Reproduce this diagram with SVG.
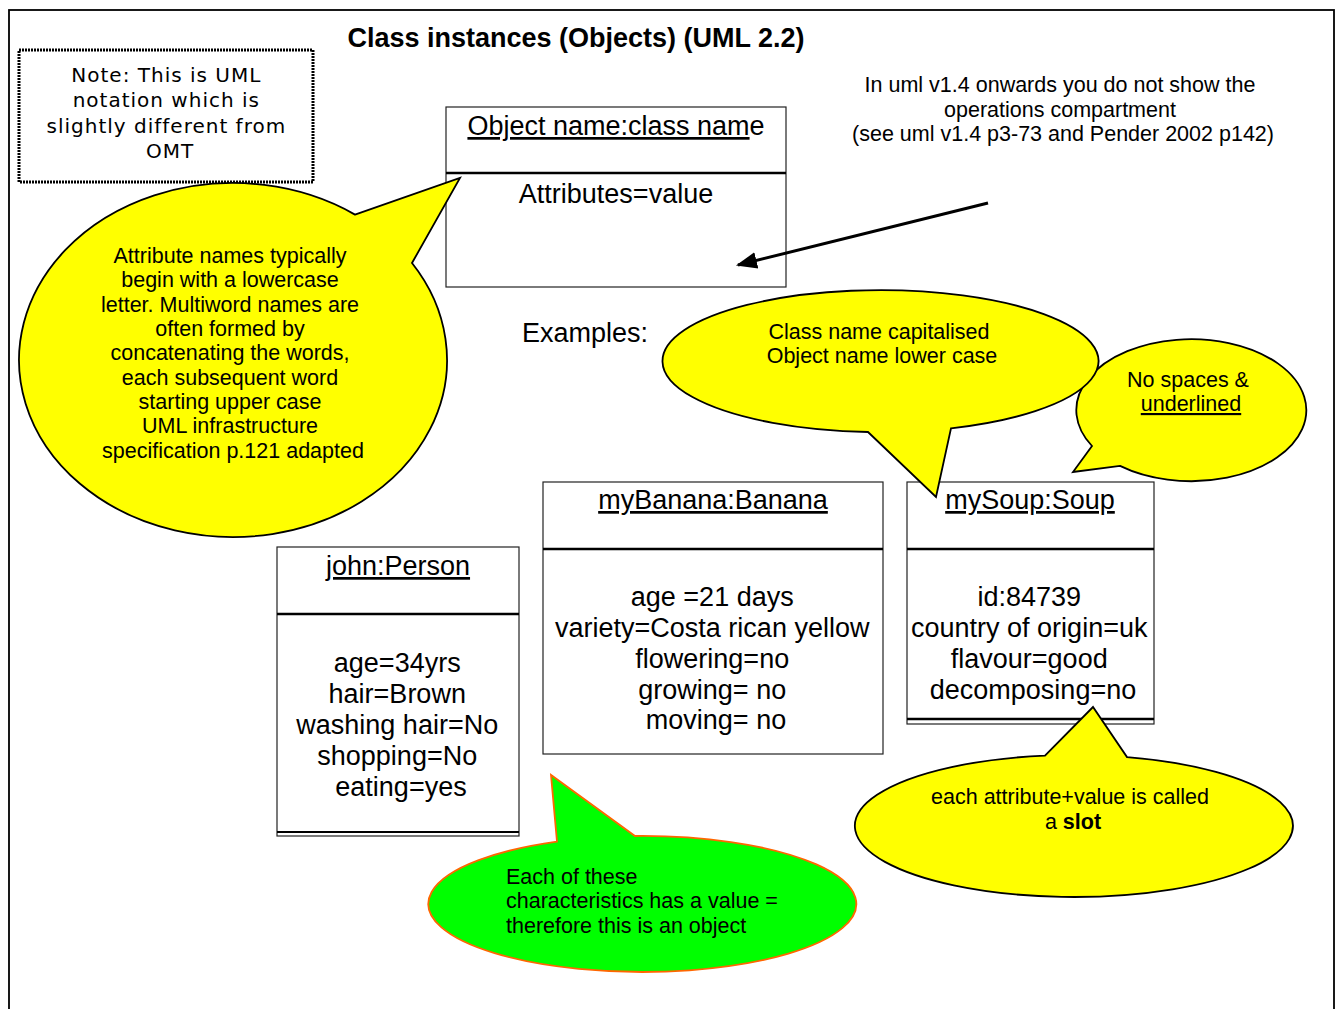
<svg xmlns="http://www.w3.org/2000/svg" width="1337" height="1009" viewBox="0 0 1337 1009">
  <style>
    .t { font-family: "Liberation Sans", Arial, sans-serif; fill: #000; }
    .c { text-anchor: middle; }
    .u { text-decoration: underline; }
    .box { fill: #fff; stroke: #222; stroke-width: 1.2; }
    .sep { stroke: #000; stroke-width: 2.5; }
    .callout { fill: #ffff00; stroke: #000; stroke-width: 1.8; }
    .green { fill: #00ff00; stroke: #ff6600; stroke-width: 1.8; }
    .f19 { font-size: 21.5px; }
    .f25 { font-size: 27px; }
  </style>
  <defs>
    <marker id="arrow" viewBox="0 0 10 10" refX="9" refY="5" markerWidth="7" markerHeight="7" orient="auto" markerUnits="strokeWidth">
      <path d="M0,1 L10,5 L0,9 z" fill="#000"/>
    </marker>
  </defs>

  <rect width="1337" height="1009" fill="#fff"/>
  <!-- page frame -->
  <rect x="9" y="10" width="1325" height="1010" fill="none" stroke="#000" stroke-width="1.8"/>

  <text class="t c" x="576" y="47" font-size="27" font-weight="bold">Class instances (Objects) (UML 2.2)</text>

  <!-- note -->
  <g id="note">
    <rect x="19" y="50" width="294" height="132" fill="#fff" stroke="#000" stroke-width="3" stroke-dasharray="2 1"/>
    <text class="c" font-family="DejaVu Sans, Verdana, sans-serif" font-size="20" letter-spacing="1">
      <tspan x="170" y="82">Note: This is UML</tspan>
      <tspan x="170" y="107">notation which is</tspan>
      <tspan x="170" y="133">slightly different from</tspan>
      <tspan x="170" y="158">OMT</tspan>
    </text>
  </g>

  <!-- generic object template -->
  <g id="object-template">
    <rect class="box" x="446" y="107" width="340" height="180"/>
    <line class="sep" x1="446" y1="173" x2="786" y2="173"/>
    <text class="t c f25" x="616" y="135"><tspan class="u">Object name:class nam</tspan>e</text>
    <text class="t c f25" x="616" y="203">Attributes=value</text>
  </g>

  <!-- attribute naming callout -->
  <g id="callout-attributes">
    <path class="callout" d="M355,214.6 L460,178 L412,263 A214,177 0 1 1 355,214.6 Z"/>
    <text class="t c f19">
      <tspan x="233" y="263">Attribute names typically</tspan>
      <tspan x="233" y="287">begin with a lowercase</tspan>
      <tspan x="233" y="312">letter. Multiword names are</tspan>
      <tspan x="233" y="336">often formed by</tspan>
      <tspan x="233" y="360">concatenating the words,</tspan>
      <tspan x="233" y="385">each subsequent word</tspan>
      <tspan x="233" y="409">starting upper case</tspan>
      <tspan x="233" y="433">UML infrastructure</tspan>
      <tspan x="233" y="458">specification p.121 adapted</tspan>
    </text>
  </g>

  <g id="uml-version-note">
    <text class="t c f19">
      <tspan x="1063" y="92">In uml v1.4 onwards you do not show the</tspan>
      <tspan x="1063" y="117">operations compartment</tspan>
      <tspan x="1063" y="141">(see uml v1.4 p3-73 and Pender 2002 p142)</tspan>
    </text>
  </g>

  <text class="t" x="522" y="342" font-size="27">Examples:</text>

  <!-- connectors -->
  <g id="connectors">
    <line x1="988" y1="203" x2="738" y2="265" stroke="#000" stroke-width="3" marker-end="url(#arrow)"/>
  </g>

  <!-- object instances -->
  <g id="john">
    <rect class="box" x="277" y="547" width="242" height="289"/>
    <line class="sep" x1="277" y1="614" x2="519" y2="614"/>
    <line x1="277" y1="832" x2="519" y2="832" stroke="#000" stroke-width="2"/>
    <text class="t c f25 u" x="398" y="575">john:Person</text>
    <text class="t c f25">
      <tspan x="401" y="672">age=34yrs</tspan>
      <tspan x="401" y="703">hair=Brown</tspan>
      <tspan x="401" y="734">washing hair=No</tspan>
      <tspan x="401" y="765">shopping=No</tspan>
      <tspan x="401" y="796">eating=yes</tspan>
    </text>
  </g>

  <g id="banana">
    <rect class="box" x="543" y="482" width="340" height="272"/>
    <line class="sep" x1="543" y1="549" x2="883" y2="549"/>
    <text class="t c f25 u" x="713" y="509">myBanana:Banana</text>
    <text class="t c f25">
      <tspan x="716" y="606">age =21 days</tspan>
      <tspan x="716" y="637">variety=Costa rican yellow</tspan>
      <tspan x="716" y="668">flowering=no</tspan>
      <tspan x="716" y="699">growing= no</tspan>
      <tspan x="716" y="729">moving= no</tspan>
    </text>
  </g>

  <g id="soup">
    <rect class="box" x="907" y="482" width="247" height="242"/>
    <line class="sep" x1="907" y1="549" x2="1154" y2="549"/>
    <line x1="907" y1="719" x2="1154" y2="719" stroke="#000" stroke-width="2.5"/>
    <text class="t c f25 u" x="1030" y="509">mySoup:Soup</text>
    <text class="t c f25">
      <tspan x="1033" y="606">id:84739</tspan>
      <tspan x="1033" y="637">country of origin=uk</tspan>
      <tspan x="1033" y="668">flavour=good</tspan>
      <tspan x="1033" y="699">decomposing=no</tspan>
    </text>
  </g>

  <!-- naming callouts -->
  <g id="callout-nospaces">
    <path class="callout" d="M1092,446 L1073,472 L1120,465.9 A115,71 0 1 0 1092,446 Z"/>
    <text class="t c f19">
      <tspan x="1191" y="387">No spaces &amp;</tspan>
      <tspan x="1191" y="411" class="u">underlined</tspan>
    </text>
  </g>

  <g id="callout-classname">
    <path class="callout" d="M868,432 L936,497 L951,428.3 A218,71 0 1 0 868,432 Z"/>
    <text class="t c f19">
      <tspan x="882" y="339">Class name capitalised</tspan>
      <tspan x="882" y="363">Object name lower case</tspan>
    </text>
  </g>

  <g id="callout-slot">
    <path class="callout" d="M1045,755.6 L1093,707 L1127,757.1 A219,71 0 1 1 1045,755.6 Z"/>
    <text class="t c f19">
      <tspan x="1073" y="804">each attribute+value is called</tspan>
      <tspan x="1073" y="829">a <tspan font-weight="bold">slot</tspan></tspan>
    </text>
  </g>

  <g id="callout-values">
    <path class="green" d="M557,841.6 L551,775 L635,836 A214,68 0 1 1 557,841.6 Z"/>
    <text class="t f19">
      <tspan x="506" y="884">Each of these</tspan>
      <tspan x="506" y="908">characteristics has a value =</tspan>
      <tspan x="506" y="933">therefore this is an object</tspan>
    </text>
  </g>
</svg>
